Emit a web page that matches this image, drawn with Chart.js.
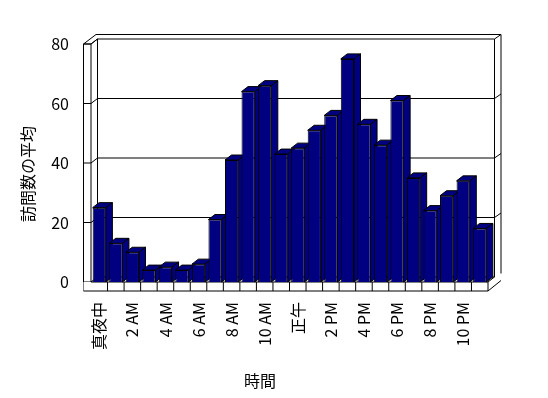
<!DOCTYPE html>
<html>
<head>
<meta charset="utf-8">
<script src="https://cdn.jsdelivr.net/npm/chart.js@4.4.1/dist/chart.umd.min.js"></script>
<style>
  body { margin: 0; background: #fff; }
  #wrap { width: 548px; height: 398px; }
</style>
</head>
<body>
<div id="wrap"><canvas id="myChart"></canvas></div>
<script>
// categorias (una por hora), solo se muestran las pares
var HOURS = ['真夜中', '1 AM', '2 AM', '3 AM', '4 AM', '5 AM', '6 AM', '7 AM', '8 AM', '9 AM', '10 AM', '11 AM',
             '正午', '1 PM', '2 PM', '3 PM', '4 PM', '5 PM', '6 PM', '7 PM', '8 PM', '9 PM', '10 PM', '11 PM'];
var VISITS = [25, 13, 10, 4, 5, 4, 6, 21, 41, 64, 66, 43, 45, 51, 56, 75, 53, 46, 61, 35, 24, 29, 34, 18];
var Y_TICKS = [0, 20, 40, 60, 80];
var Y_TITLE = '訪問数の平均';
var X_TITLE = '時間';

var FONT = "'Noto Sans CJK JP', sans-serif";
var NAVY = '#000080';
var DX = 6.5, DY = -5;      // profundidad de las barras / pared del fondo
var DX2 = 13, DY2 = -9.5;   // grosor de la pared del fondo

function line(ctx, pts) {
    ctx.beginPath();
    ctx.moveTo(pts[0][0], pts[0][1]);
    for (var i = 1; i < pts.length; i++) ctx.lineTo(pts[i][0], pts[i][1]);
    ctx.stroke();
}

function poly(ctx, pts, fill) {
    ctx.beginPath();
    ctx.moveTo(pts[0][0], pts[0][1]);
    for (var i = 1; i < pts.length; i++) ctx.lineTo(pts[i][0], pts[i][1]);
    ctx.closePath();
    ctx.fillStyle = fill;
    ctx.fill();
    ctx.stroke();
}

// dibuja la caja 3d (paredes, piso) y las caras laterales de las barras
var box3d = {
    id: 'box3d',
    beforeDatasetsDraw: function (chart) {
        var ctx = chart.ctx, a = chart.chartArea, ys = chart.scales.y;
        var L = a.left, R = a.right, B = a.bottom, T = a.top;
        var OL = L - 7.5, FB = B + 9;
        ctx.save();
        ctx.strokeStyle = '#000';
        ctx.lineWidth = 1;

        // pared izquierda y del fondo
        line(ctx, [[OL, FB], [OL, T], [L, T], [L, B]]);
        line(ctx, [[OL, T], [L + DX2 - 8, T + DY2], [R + DX2, T + DY2], [R + DX2, B + DY2 + 1]]);
        line(ctx, [[L, T], [L + DX, T + DY], [R + DX, T + DY], [R + DX, B + DY]]);
        line(ctx, [[R + DX, T + DY], [R + DX2, T + DY2]]);
        line(ctx, [[L + DX, T + DY], [L + DX, B + DY], [R + DX, B + DY]]);

        // lineas de division
        Y_TICKS.forEach(function (v) {
            var yf = ys.getPixelForValue(v);
            line(ctx, [[OL, yf], [L, yf], [L + DX, yf + DY]]);
            if (v > Y_TICKS[0] && v < Y_TICKS[Y_TICKS.length - 1]) {
                line(ctx, [[L + DX, yf + DY], [R + DX, yf + DY], [R + DX2, yf + DY2]]);
            }
        });

        // piso
        ctx.fillStyle = '#fff';
        ctx.fillRect(OL, B, R - OL, FB - B);
        line(ctx, [[OL, FB], [R, FB], [R, B], [L, B]]);
        line(ctx, [[R, FB], [R + DX2, FB + DY2 - 1]]);
        line(ctx, [[R, B], [R + DX, B + DY]]);
        var xs = chart.scales.x;
        var step = (R - L) / HOURS.length;
        for (var i = 1; i < HOURS.length; i++) {
            line(ctx, [[L + i * step, B], [L + i * step, FB]]);
        }

        // caras de arriba y del costado
        chart.getDatasetMeta(0).data.forEach(function (bar) {
            var w = bar.width, xl = bar.x - w / 2, xr = bar.x + w / 2, top = bar.y, base = bar.base;
            poly(ctx, [[xl, top], [xl + DX, top + DY], [xr + DX, top + DY], [xr, top]], NAVY);
            poly(ctx, [[xr, top], [xr + DX, top + DY], [xr + DX, base + DY], [xr, base]], NAVY);
        });
        ctx.restore();
    },
    afterDraw: function (chart) {
        var ctx = chart.ctx, a = chart.chartArea;
        ctx.save();
        ctx.fillStyle = '#000';
        ctx.font = '16px ' + FONT;
        ctx.textAlign = 'center';
        ctx.textBaseline = 'middle';
        ctx.fillText(X_TITLE, 260, 381);
        ctx.translate(28, (a.top + a.bottom) / 2 + 11);
        ctx.rotate(-Math.PI / 2);
        ctx.fillText(Y_TITLE, 0, 0);
        ctx.restore();
    }
};

var ctx = document.getElementById('myChart').getContext('2d');
var chart = new Chart(ctx, {
    type: 'bar',
    data: {
        labels: HOURS,
        datasets: [{
            data: VISITS,
            backgroundColor: NAVY,
            borderColor: '#000',
            borderWidth: 1,
            barPercentage: 0.8,
            categoryPercentage: 1
        }]
    },
    options: {
        responsive: true,
        maintainAspectRatio: false,
        animation: false,
        layout: { padding: { left: 14, right: 60, top: 44, bottom: 0 } },
        plugins: {
            legend: { display: false },
            tooltip: { enabled: false }
        },
        scales: {
            x: {
                grid: { display: false, drawTicks: false },
                border: { display: false },
                ticks: {
                    autoSkip: false,
                    minRotation: 90,
                    maxRotation: 90,
                    padding: 20,
                    color: '#000',
                    font: { family: FONT, size: 16 },
                    callback: function (v, i) { return i % 2 === 0 ? HOURS[i] : ''; }
                },
                afterFit: function (s) { s.height = 116; }
            },
            y: {
                min: Y_TICKS[0],
                max: Y_TICKS[Y_TICKS.length - 1],
                grid: { display: false, drawTicks: false },
                border: { display: false },
                ticks: {
                    stepSize: Y_TICKS[1] - Y_TICKS[0],
                    padding: 22,
                    color: '#000',
                    font: { family: FONT, size: 16 }
                },
                afterFit: function (s) { s.width = 77; }
            }
        }
    },
    plugins: [box3d]
});
</script>
</body>
</html>
